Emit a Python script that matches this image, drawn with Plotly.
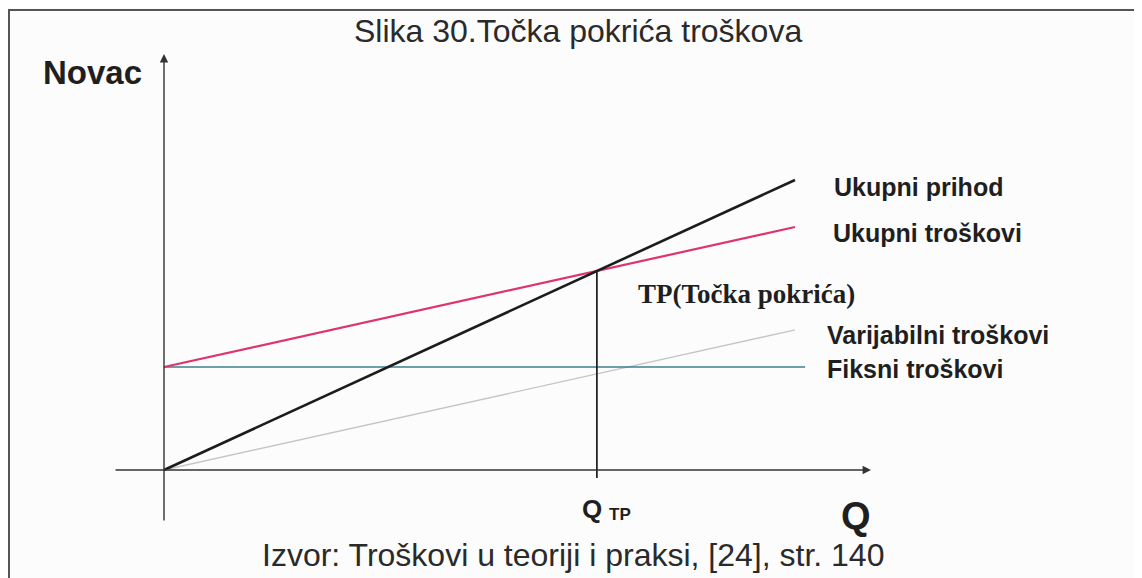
import plotly.graph_objects as go

# Podaci očitani sa slike (Q = količina, novac)
kolicina = [0, 10]
ukupni_prihod = [0, 1000]
ukupni_troskovi = [355, 838]
varijabilni_troskovi = [0, 483]
kolicina_fiksni = [0, 10.16]
fiksni_troskovi = [355, 355]
q_tp = 6.86
novac_tp = 686

STR_W, STR_H = 1142, 578   # prozor preglednika
RUB = 8                    # zadana margina <body> u pregledniku
SIRINA, VISINA = STR_W - RUB, STR_H - RUB

# ishodište grafa (u pikselima stranice) i mjerilo osi
X0_PX, Y0_PX = 164, 470
PX_PO_Q = 63.1
PX_PO_NOVCU = 0.29


def qx(px):
    return (px - X0_PX) / PX_PO_Q


def ny(py):
    return (Y0_PX - py) / PX_PO_NOVCU


def papir_x(px):
    return (px - RUB) / SIRINA


def papir_y(py):
    return 1 - (py - RUB) / VISINA


fig = go.Figure()

# Varijabilni troškovi (svijetlo siva)
fig.add_trace(go.Scatter(x=kolicina, y=varijabilni_troskovi, mode="lines",
                         line=dict(color="#c6c6c6", width=1.4)))
# Fiksni troškovi (tanka plavo-zelena)
fig.add_trace(go.Scatter(x=kolicina_fiksni, y=fiksni_troskovi, mode="lines",
                         line=dict(color="#3f7f94", width=1.4)))
# Ukupni troškovi (crvena)
fig.add_trace(go.Scatter(x=kolicina, y=ukupni_troskovi, mode="lines",
                         line=dict(color="#e0336a", width=2.2)))
# Ukupni prihod (crna)
fig.add_trace(go.Scatter(x=kolicina, y=ukupni_prihod, mode="lines",
                         line=dict(color="#1c1c1c", width=2.6)))
# Okomica kroz točku pokrića
fig.add_trace(go.Scatter(x=[q_tp, q_tp], y=[novac_tp, ny(478)], mode="lines",
                         line=dict(color="#222222", width=1.8)))

anot = []

# osi sa strelicama
anot.append(dict(x=0, y=ny(54), ax=0, ay=ny(522), xref="x", yref="y",
                 axref="x", ayref="y", text="", showarrow=True,
                 arrowhead=2, arrowsize=1.2, arrowwidth=1.4, arrowcolor="#333333"))
anot.append(dict(x=qx(871), y=0, ax=qx(114), ay=0, xref="x", yref="y",
                 axref="x", ayref="y", text="", showarrow=True,
                 arrowhead=2, arrowsize=1.2, arrowwidth=1.4, arrowcolor="#333333"))

# oznake linija
sans = "Liberation Sans, Arial, sans-serif"
oznake = [
    ("Ukupni prihod", 832, 187),
    ("Ukupni troškovi", 831, 233),
    ("Varijabilni troškovi", 825, 335),
    ("Fiksni troškovi", 825, 369),
]
for tekst, px, py in oznake:
    anot.append(dict(x=qx(px), y=ny(py), text="<b>" + tekst + "</b>", showarrow=False,
                     xanchor="left", yanchor="middle",
                     font=dict(family=sans, size=25, color="#1f1f1f")))

anot.append(dict(x=qx(636), y=ny(294), text="<b>TP(Točka pokrića)</b>", showarrow=False,
                 xanchor="left", yanchor="middle",
                 font=dict(family="Liberation Serif, Times New Roman, serif", size=27,
                           color="#1f1f1f")))

anot.append(dict(x=qx(92), y=ny(72), text="<b>Novac</b>", showarrow=False,
                 xanchor="center", yanchor="middle",
                 font=dict(family=sans, size=33, color="#1f1f1f")))
anot.append(dict(x=qx(592), y=ny(509), text="<b>Q</b>", showarrow=False,
                 xanchor="center", yanchor="middle",
                 font=dict(family=sans, size=26, color="#1f1f1f")))
anot.append(dict(x=qx(607), y=ny(514), text="<b>TP</b>", showarrow=False,
                 xanchor="left", yanchor="middle",
                 font=dict(family=sans, size=17, color="#1f1f1f")))
anot.append(dict(x=qx(856), y=ny(516), text="<b>Q</b>", showarrow=False,
                 xanchor="center", yanchor="middle",
                 font=dict(family=sans, size=38, color="#1f1f1f")))

# naslov i izvor
anot.append(dict(x=papir_x(578), y=papir_y(31), xref="paper", yref="paper",
                 text="Slika 30.Točka pokrića troškova", showarrow=False,
                 xanchor="center", yanchor="middle",
                 font=dict(family=sans, size=32, color="#2a2a2a")))
anot.append(dict(x=papir_x(573), y=papir_y(555), xref="paper", yref="paper",
                 text="Izvor: Troškovi u teoriji i praksi, [24], str. 140", showarrow=False,
                 xanchor="center", yanchor="middle",
                 font=dict(family=sans, size=32, color="#2a2a2a")))

# okvir skenirane stranice
oblici = [
    dict(type="line", xref="paper", yref="paper", x0=papir_x(9), x1=papir_x(9),
         y0=0, y1=papir_y(10), line=dict(color="#555555", width=2)),
    dict(type="line", xref="paper", yref="paper", x0=0, x1=1,
         y0=papir_y(10), y1=papir_y(10), line=dict(color="#555555", width=2)),
]

fig.update_layout(
    width=SIRINA,
    height=VISINA,
    margin=dict(l=0, r=0, t=0, b=0),
    paper_bgcolor="#fcfcfc",
    plot_bgcolor="#fcfcfc",
    showlegend=False,
    xaxis=dict(range=[qx(RUB), qx(STR_W)], visible=False, fixedrange=True),
    yaxis=dict(range=[ny(STR_H), ny(RUB)], visible=False, fixedrange=True),
    annotations=anot,
    shapes=oblici,
)

fig.write_html("out.html")
